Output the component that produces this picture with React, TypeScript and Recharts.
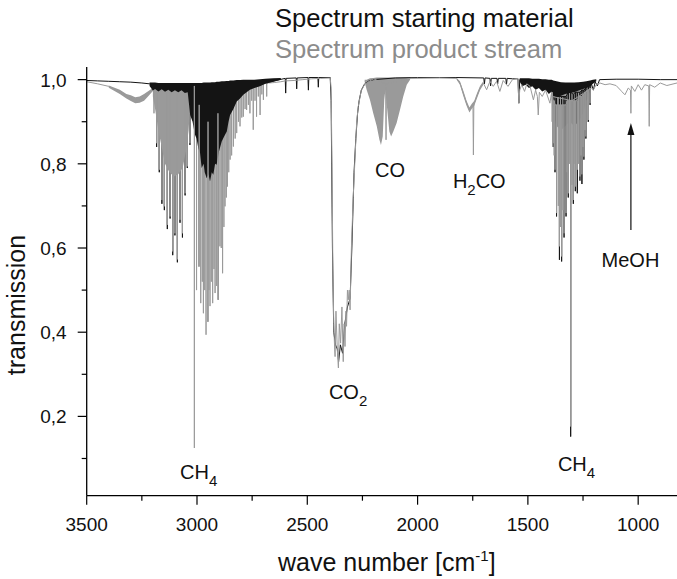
import { ComposedChart, Line, Area, XAxis, YAxis, ReferenceDot, ReferenceLine } from 'recharts';

const FONT = '"Liberation Sans", Arial, Helvetica, sans-serif';
const BLACK = '#141414';
const GRAY = '#9a9a9a';

// x ticks (wave number) and y ticks (transmission); labels only on the majors
const X_TICKS = [3500, 3250, 3000, 2750, 2500, 2250, 2000, 1750, 1500, 1250, 1000];
const Y_TICKS = [0.1, 0.2, 0.3, 0.4, 0.5, 0.6, 0.7, 0.8, 0.9, 1.0];

// starting material baseline, [wave number, transmission]
const startSpectrum = [
  [3500, 0.998], [3450, 0.997], [3400, 0.996], [3350, 0.995], [3300, 0.994], [3250, 0.992], [3215, 0.99],
  [3030, 0.975], [2900, 0.95], [2800, 0.97], [2700, 0.99], [2650, 0.997], [2600, 1.003], [2598, 0.968],
  [2596, 1.003], [2550, 1.004], [2548, 0.978], [2546, 1.004], [2497, 1.005], [2495, 0.975], [2493, 1.005],
  [2452, 1.005], [2450, 0.982], [2448, 1.005], [2396, 1.005], [2392, 0.95], [2386, 0.6], [2380, 0.4],
  [2372, 0.37], [2364, 0.36], [2358, 0.33], [2350, 0.37], [2340, 0.35], [2330, 0.42], [2318, 0.46],
  [2306, 0.48], [2298, 0.6], [2288, 0.78], [2280, 0.86], [2272, 0.92], [2265, 0.95], [2255, 0.975],
  [2240, 0.99], [2220, 0.997], [2200, 1.0], [2100, 1.004], [2000, 1.005], [1900, 1.005], [1830, 1.005],
  [1700, 1.004], [1697, 0.99], [1694, 1.004], [1672, 1.003], [1669, 0.985], [1666, 1.003], [1640, 1.003],
  [1637, 0.99], [1634, 1.003], [1600, 1.003], [1597, 0.988], [1594, 1.003], [1570, 1.002], [1545, 1.002],
  [1541, 0.944], [1537, 1.0], [1500, 0.995], [1450, 0.99], [1400, 0.985], [1300, 0.98], [1218, 0.985],
  [1212, 0.99], [1203, 0.975], [1195, 0.995], [1185, 0.985], [1175, 1.0], [1100, 1.001], [1000, 1.001],
  [900, 1.0], [824, 1.0],
];

// single absorption lines of the starting material, [wave number, top, bottom]
const startLinesCH4High = [
  [3183, 0.98, 0.84], [3171, 0.98, 0.78], [3159, 0.98, 0.705], [3148, 0.98, 0.69], [3134.5, 0.98, 0.645],
  [3122, 0.98, 0.67], [3110, 0.98, 0.583], [3100, 0.98, 0.63], [3089, 0.98, 0.566], [3077, 0.98, 0.66],
  [3066, 0.98, 0.625], [3054, 0.98, 0.725], [3044, 0.98, 0.79], [3032, 0.98, 0.845],
];
const startLinesCH4Low = [
  [1385, 0.97, 0.84], [1377, 0.96, 0.78], [1370, 0.96, 0.675], [1357, 0.96, 0.572], [1347, 0.96, 0.568],
  [1336, 0.96, 0.625], [1327, 0.96, 0.675], [1317, 0.97, 0.72], [1306, 0.97, 0.152], [1294, 0.965, 0.705],
  [1285, 0.97, 0.735], [1276, 0.97, 0.73], [1264, 0.97, 0.76], [1255, 0.975, 0.752], [1246, 0.975, 0.81],
  [1237, 0.98, 0.86], [1226, 0.985, 0.9], [1218, 0.99, 0.94],
];

// dense line clusters of the starting material, [wave number, low, high]
const startBand = [
  [3215, 0.985, 0.993], [3200, 0.974, 0.993], [3190, 0.978, 0.993], [3175, 0.972, 0.992], [3160, 0.977, 0.992],
  [3145, 0.971, 0.992], [3130, 0.976, 0.992], [3115, 0.97, 0.992], [3100, 0.975, 0.992], [3085, 0.97, 0.992],
  [3070, 0.975, 0.992], [3055, 0.968, 0.992], [3042, 0.97, 0.992], [3031, 0.916, 0.992], [3020, 0.9, 0.992],
  [3010, 0.87, 0.992], [3002, 0.86, 0.992], [2994, 0.837, 0.992], [2986, 0.825, 0.992], [2979, 0.79, 0.992],
  [2970, 0.8, 0.993], [2965, 0.78, 0.993], [2956, 0.766, 0.993], [2948, 0.775, 0.993], [2941, 0.758, 0.993],
  [2933, 0.78, 0.994], [2926, 0.774, 0.994], [2918, 0.8, 0.994], [2911, 0.798, 0.995], [2900, 0.83, 0.995],
  [2888, 0.853, 0.996], [2877, 0.865, 0.996], [2865, 0.877, 0.997], [2857, 0.9, 0.997], [2850, 0.916, 0.998],
  [2835, 0.93, 0.998], [2820, 0.948, 0.999], [2805, 0.955, 0.999], [2790, 0.964, 1.0], [2775, 0.97, 1.0],
  [2760, 0.976, 1.0], [2740, 0.98, 1.0], [2715, 0.984, 1.001], [2690, 0.99, 1.002], [2654, 0.995, 1.003],
  [2620, 1.0, 1.004],
];
const startBandLow = [
  [1537, 0.995, 1.003], [1525, 0.984, 1.003], [1510, 0.988, 1.003], [1495, 0.98, 1.003], [1480, 0.984, 1.002],
  [1465, 0.976, 1.002], [1450, 0.98, 1.002], [1435, 0.972, 1.001], [1420, 0.976, 1.001], [1405, 0.966, 1.0],
  [1392, 0.972, 1.0], [1385, 0.962, 0.998], [1370, 0.958, 0.996], [1350, 0.962, 0.994], [1330, 0.966, 0.993],
  [1310, 0.968, 0.993], [1290, 0.97, 0.993], [1270, 0.974, 0.994], [1250, 0.978, 0.995], [1235, 0.98, 0.996],
  [1218, 0.985, 0.998], [1205, 0.99, 1.0], [1190, 0.996, 1.001],
];

// product stream baseline, [wave number, transmission]
const productSpectrum = [
  [3500, 0.995], [3450, 0.99], [3400, 0.984], [3350, 0.972], [3320, 0.96], [3300, 0.956], [3280, 0.951],
  [3260, 0.952], [3240, 0.957], [3220, 0.967], [3200, 0.975], [3030, 0.97], [2900, 0.95], [2800, 0.975],
  [2700, 0.99], [2676, 0.992], [2650, 0.993], [2620, 0.995], [2600, 0.997], [2560, 0.998], [2520, 1.0],
  [2480, 1.002], [2440, 1.003], [2396, 1.004], [2392, 0.98], [2388, 0.8], [2384, 0.55], [2380, 0.42],
  [2376, 0.36], [2374, 0.342], [2370, 0.45], [2364, 0.36], [2359, 0.315], [2355, 0.42], [2349, 0.374],
  [2343, 0.46], [2337, 0.33], [2333, 0.42], [2329, 0.366], [2325, 0.45], [2322, 0.414], [2318, 0.5],
  [2314, 0.477], [2310, 0.5], [2306, 0.453], [2300, 0.6], [2292, 0.72], [2284, 0.81], [2276, 0.9],
  [2269, 0.936], [2255, 0.975], [2238, 0.99], [2200, 1.002], [2145, 0.99], [2143, 0.857], [2141, 0.99],
  [2030, 1.003], [1900, 1.004], [1823, 1.003], [1808, 0.992], [1793, 0.968], [1778, 0.944], [1765, 0.928],
  [1755, 0.936], [1749, 0.94], [1747, 0.821], [1745, 0.94], [1743, 0.944], [1732, 0.96], [1717, 0.98],
  [1702, 0.992], [1687, 0.976], [1672, 0.996], [1657, 0.984], [1642, 0.996], [1627, 0.972], [1612, 0.998],
  [1590, 0.984], [1570, 1.0], [1545, 1.003], [1541, 0.944], [1537, 0.975], [1528, 0.988], [1515, 0.972],
  [1505, 0.99], [1490, 0.984], [1475, 0.952], [1465, 0.975], [1457, 0.96], [1453, 0.916], [1448, 0.97],
  [1435, 0.96], [1420, 0.975], [1400, 0.944], [1394, 0.965], [1390, 0.96], [1300, 0.95], [1212, 0.98],
  [1203, 0.976], [1190, 0.988], [1173, 0.992], [1150, 0.988], [1128, 0.99], [1100, 0.986], [1080, 0.975],
  [1075, 0.972], [1060, 0.964], [1045, 0.98], [1035, 0.975], [1033, 0.92], [1031, 0.985], [1015, 0.972],
  [1000, 0.988], [985, 0.975], [970, 0.988], [952, 0.985], [950, 0.889], [948, 0.988], [925, 0.982],
  [900, 0.992], [870, 0.986], [824, 0.992],
];

// single absorption lines of the product stream, [wave number, top, bottom]
const productLinesCH4High = [
  [3195, 0.98, 0.92], [3183, 0.98, 0.849], [3171, 0.98, 0.786], [3159, 0.98, 0.714], [3148, 0.98, 0.699],
  [3134.5, 0.98, 0.655], [3122, 0.98, 0.675], [3110, 0.98, 0.592], [3100, 0.98, 0.635], [3089, 0.98, 0.573],
  [3077, 0.98, 0.667], [3066, 0.98, 0.635], [3054, 0.98, 0.73], [3044, 0.98, 0.794], [3032, 0.98, 0.849],
  [3002, 0.9, 0.5], [2992, 0.9, 0.556], [2983, 0.9, 0.469], [2976, 0.9, 0.52],
  [2971, 0.9, 0.445], [2965, 0.9, 0.5], [2959, 0.9, 0.394], [2951, 0.9, 0.425], [2946, 0.9, 0.5],
  [2941, 0.9, 0.462], [2935, 0.9, 0.52], [2929, 0.9, 0.469], [2923, 0.9, 0.55], [2918, 0.9, 0.493],
  [2911, 0.9, 0.51], [2903, 0.9, 0.477], [2896, 0.93, 0.604], [2890, 0.93, 0.6], [2884, 0.93, 0.54],
  [2878, 0.93, 0.65], [2873, 0.93, 0.699], [2867, 0.95, 0.72], [2862, 0.95, 0.746], [2856, 0.95, 0.78],
  [2850, 0.96, 0.81], [2843, 0.96, 0.82], [2835, 0.96, 0.841], [2827, 0.985, 0.86], [2820, 0.985, 0.873],
  [2812, 0.985, 0.9], [2805, 0.985, 0.889], [2797, 0.985, 0.91], [2790, 0.985, 0.912], [2782, 0.985, 0.93],
  [2775, 0.985, 0.928], [2767, 0.985, 0.94], [2760, 0.985, 0.92], [2752, 0.99, 0.95], [2745, 0.99, 0.881],
  [2737, 0.99, 0.95], [2730, 0.99, 0.912], [2722, 0.99, 0.96], [2714, 0.99, 0.916], [2706, 0.995, 0.965],
  [2699, 0.995, 0.952], [2684, 0.995, 0.96],
];
// lines that show through the black cluster of the starting material
const productLinesCH4Front = [
  [3012, 0.985, 0.125], [2990, 0.94, 0.556], [2950, 0.9, 0.425], [2905, 0.92, 0.477],
];
const productLinesCH4Low = [
  [1390, 0.97, 0.9], [1385, 0.95, 0.849], [1381, 0.95, 0.82], [1377, 0.94, 0.786], [1370, 0.94, 0.683],
  [1362, 0.94, 0.7], [1357, 0.94, 0.604], [1352, 0.94, 0.65], [1347, 0.94, 0.58], [1341, 0.94, 0.69],
  [1336, 0.94, 0.635], [1327, 0.94, 0.683], [1322, 0.95, 0.78], [1317, 0.95, 0.73], [1311, 0.95, 0.8],
  [1306, 0.95, 0.176], [1300, 0.95, 0.75], [1294, 0.95, 0.714], [1289, 0.95, 0.8], [1285, 0.95, 0.746],
  [1276, 0.95, 0.786], [1270, 0.96, 0.8], [1264, 0.96, 0.77], [1259, 0.96, 0.82], [1255, 0.96, 0.775],
  [1250, 0.965, 0.84], [1246, 0.965, 0.817], [1241, 0.97, 0.88], [1237, 0.97, 0.865], [1231, 0.975, 0.9],
  [1226, 0.975, 0.904], [1218, 0.98, 0.944],
];

// filled parts of the product stream, [wave number, low, high]
const productShoulder = [
  [3400, 0.981, 0.986], [3350, 0.966, 0.976], [3320, 0.955, 0.966], [3300, 0.949, 0.963], [3280, 0.944, 0.958],
  [3260, 0.945, 0.96], [3240, 0.95, 0.966], [3220, 0.961, 0.973], [3200, 0.973, 0.98],
];
const productCH4High = [
  [3200, 0.96, 0.975], [3190, 0.93, 0.978], [3175, 0.88, 0.978], [3160, 0.84, 0.978], [3145, 0.8, 0.978],
  [3125, 0.78, 0.978], [3105, 0.77, 0.978], [3085, 0.775, 0.978], [3065, 0.79, 0.978], [3050, 0.83, 0.978],
  [3038, 0.88, 0.978], [3030, 0.95, 0.975],
];
const productCO = [
  [2240, 0.995, 1.0], [2231, 0.976, 1.0], [2216, 0.952, 1.003], [2201, 0.92, 1.004], [2185, 0.889, 1.005],
  [2173, 0.857, 1.005], [2166, 0.845, 1.005], [2158, 0.865, 1.005], [2151, 0.952, 1.005], [2146, 0.976, 1.005],
  [2136, 0.92, 1.005], [2128, 0.877, 1.005], [2120, 0.865, 1.005], [2110, 0.877, 1.005], [2095, 0.897, 1.005],
  [2080, 0.928, 1.005], [2065, 0.96, 1.005], [2049, 0.988, 1.005], [2034, 1.0, 1.005],
];
const productH2CO = [
  [1823, 1.0, 1.004], [1808, 0.988, 0.996], [1793, 0.962, 0.974], [1778, 0.938, 0.95], [1765, 0.922, 0.934],
  [1755, 0.93, 0.942], [1743, 0.938, 0.95], [1732, 0.954, 0.966], [1717, 0.975, 0.985], [1702, 0.988, 0.996],
];
const productCH4Low = [
  [1395, 0.965, 0.99], [1385, 0.92, 0.99], [1370, 0.89, 0.99], [1350, 0.88, 0.99], [1330, 0.89, 0.99],
  [1310, 0.9, 0.99], [1290, 0.89, 0.99], [1270, 0.9, 0.99], [1250, 0.92, 0.99], [1235, 0.95, 0.99],
  [1220, 0.97, 0.99], [1210, 0.985, 0.99],
];

// peak labels: [wave number, transmission, text, subscript, text after]
const notes = [
  [3077, 0.051, 'CH', '4', ''],
  [2402, 0.242, 'CO', '2', ''],
  [2193, 0.769, 'CO', '', ''],
  [1840, 0.743, 'H', '2', 'CO'],
  [1166, 0.555, 'MeOH', '', ''],
  [1364, 0.071, 'CH', '4', ''],
];
const arrowFrom = { v: 1033, t: 0.643 };
const arrowTo = { v: 1033, t: 0.897 };

const toLine = (arr) => arr.map(([v, t]) => ({ v, t }));
const toBand = (arr) => arr.map(([v, lo, hi]) => ({ v, lo, hi }));
// each absorption line is drawn down from its top to its bottom and back
const toSticks = (arr) => arr.flatMap(([v, top, bottom]) => [{ v, t: top }, { v, t: bottom }, { v, t: top }]);

function XTick({ x, y, payload }) {
  const major = payload.value % 500 === 0;
  return (
    <g>
      <line x1={x} y1={y} x2={x} y2={y + (major ? 9 : 5)} stroke="#000" strokeWidth={1.2} />
      {major && (
        <text x={x} y={y + 35} textAnchor="middle" fontSize={19} fill="#111" fontFamily={FONT}>
          {payload.value}
        </text>
      )}
    </g>
  );
}

function YTick({ x, y, payload }) {
  const major = Math.round(payload.value * 10) % 2 === 0;
  return (
    <g>
      <line x1={x} y1={y} x2={x - (major ? 9 : 5)} y2={y} stroke="#000" strokeWidth={1.2} />
      {major && (
        <text x={x - 20} y={y + 7} textAnchor="end" fontSize={19} fill="#111" fontFamily={FONT}>
          {payload.value.toFixed(1).replace('.', ',')}
        </text>
      )}
    </g>
  );
}

const lineProps = { dataKey: 't', type: 'linear', strokeWidth: 1, dot: false, activeDot: false, isAnimationActive: false };
const bandProps = { dataKey: (d) => [d.lo, d.hi], type: 'linear', stroke: 'none', fillOpacity: 1, isAnimationActive: false };

export default function App() {
  return (
    <div style={{ position: 'absolute', left: 0, top: 0, width: 677, height: 579, background: '#fff', fontFamily: FONT }}>
      <ComposedChart width={677} height={579} margin={{ top: 67, right: 0, bottom: 0, left: 0 }}>
        <XAxis
          type="number"
          dataKey="v"
          domain={[824, 3500]}
          reversed
          allowDataOverflow
          ticks={X_TICKS}
          interval={0}
          height={83.3}
          tickSize={0}
          tickMargin={0}
          tickLine={false}
          tick={XTick}
          axisLine={{ stroke: '#000', strokeWidth: 1.3 }}
          label={{
            content: ({ viewBox }) => (
              <text x={viewBox.x + viewBox.width / 2 + 5} y={viewBox.y + 75} textAnchor="middle" fontSize={25} fill="#111" fontFamily={FONT}>
                wave number [cm<tspan dy={-10} fontSize={15}>-1</tspan><tspan dy={10}>]</tspan>
              </text>
            ),
          }}
        />
        <YAxis
          type="number"
          domain={[0.0116, 1.03]}
          allowDataOverflow
          ticks={Y_TICKS}
          interval={0}
          width={86.7}
          tickSize={0}
          tickMargin={0}
          tickLine={false}
          tick={YTick}
          axisLine={{ stroke: '#000', strokeWidth: 1.3 }}
          label={{
            content: () => (
              <text x={25} y={305} transform="rotate(-90 25 305)" textAnchor="middle" fontSize={25} fill="#111" fontFamily={FONT}>
                transmission
              </text>
            ),
          }}
        />
        <Area data={toBand(productShoulder)} {...bandProps} fill={GRAY} />
        <Area data={toBand(productCO)} {...bandProps} fill={GRAY} />
        <Area data={toBand(productH2CO)} {...bandProps} fill={GRAY} />
        <Area data={toBand(productCH4Low)} {...bandProps} fill={GRAY} />
        <Line data={toLine(startSpectrum)} {...lineProps} stroke={BLACK} />
        <Line data={toSticks(startLinesCH4High)} {...lineProps} stroke={BLACK} />
        <Line data={toSticks(startLinesCH4Low)} {...lineProps} stroke={BLACK} />
        <Area data={toBand(startBandLow)} {...bandProps} fill={BLACK} zIndex={405} />
        <Area data={toBand(productCH4High)} {...bandProps} fill={GRAY} zIndex={410} />
        <Line data={toLine(productSpectrum)} {...lineProps} stroke={GRAY} zIndex={420} />
        <Line data={toSticks(productLinesCH4High)} {...lineProps} stroke={GRAY} zIndex={420} />
        <Line data={toSticks(productLinesCH4Low)} {...lineProps} stroke={GRAY} zIndex={420} />
        <Area data={toBand(startBand)} {...bandProps} fill={BLACK} zIndex={450} />
        {productLinesCH4Front.map((stick) => (
          <Line key={stick[0]} data={toSticks([stick])} {...lineProps} stroke={GRAY} zIndex={460} />
        ))}
        <ReferenceLine segment={[{ x: arrowFrom.v, y: arrowFrom.t }, { x: arrowTo.v, y: arrowTo.t - 0.02 }]} stroke="#111" strokeWidth={1.2} />
        <ReferenceDot
          x={arrowTo.v}
          y={arrowTo.t}
          r={0}
          shape={({ cx, cy }) => <polygon points={`${cx},${cy} ${cx - 3.5},${cy + 12} ${cx + 3.5},${cy + 12}`} fill="#111" />}
        />
        {notes.map(([v, t, main, sub, rest]) => (
          <ReferenceDot
            key={`${main}${sub}${rest}${v}`}
            x={v}
            y={t}
            r={0}
            shape={({ cx, cy }) => (
              <text x={cx} y={cy} fontSize={20} fill="#111" fontFamily={FONT}>
                {main}
                {sub && <tspan dy={7} fontSize={15}>{sub}</tspan>}
                {rest && <tspan dy={-7}>{rest}</tspan>}
              </text>
            )}
          />
        ))}
      </ComposedChart>
      <div style={{ position: 'absolute', left: 275, top: 6, fontSize: 25.6, lineHeight: '25px', color: '#111', whiteSpace: 'nowrap' }}>
        Spectrum starting material
      </div>
      <div style={{ position: 'absolute', left: 275, top: 37, fontSize: 25.6, lineHeight: '25px', color: '#8c8c8c', whiteSpace: 'nowrap' }}>
        Spectrum product stream
      </div>
    </div>
  );
}
